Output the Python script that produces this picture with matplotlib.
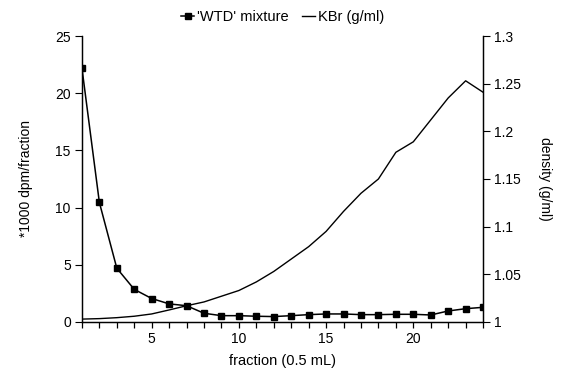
import matplotlib
matplotlib.use("Agg")
import matplotlib.pyplot as plt
from matplotlib.ticker import FuncFormatter, MultipleLocator

plt.rcParams['font.family'] = ['Liberation Sans', 'DejaVu Sans']
plt.rcParams['font.size'] = 10

fraction = list(range(1, 25))
wtd_mixture = [22.2, 10.45, 4.7, 2.85, 2.05, 1.58, 1.42, 0.76, 0.55, 0.55, 0.5, 0.47,
               0.55, 0.64, 0.7, 0.7, 0.64, 0.64, 0.67, 0.67, 0.61, 0.96, 1.16, 1.28]
kbr_density = [1.003, 1.0035, 1.0045, 1.006, 1.0084, 1.0126, 1.017, 1.021, 1.027, 1.033,
               1.042, 1.053, 1.066, 1.079, 1.095, 1.116, 1.135, 1.150, 1.178, 1.189,
               1.212, 1.235, 1.253, 1.241]

fig = plt.figure(figsize=(5.65, 3.77), dpi=100)
ax = fig.add_axes([0.145, 0.146, 0.71, 0.7585])
ax2 = ax.twinx()

l1, = ax.plot(fraction, wtd_mixture, color='black', lw=1.1, marker='s',
              markersize=5, label="'WTD' mixture")
l2, = ax2.plot(fraction, kbr_density, color='black', lw=1.0, label='KBr (g/ml)')

ax.set_xlim(1, 24)
ax.set_ylim(0, 25)
ax2.set_ylim(1, 1.3)

ax.xaxis.set_major_locator(MultipleLocator(1))
ax.xaxis.set_major_formatter(FuncFormatter(lambda v, p: f"{int(v)}" if v % 5 == 0 else ""))
ax.yaxis.set_major_locator(MultipleLocator(5))
ax2.yaxis.set_major_locator(MultipleLocator(0.05))
ax2.yaxis.set_major_formatter(FuncFormatter(lambda v, p: f"{v:g}"))

for a in (ax, ax2):
    a.spines['top'].set_visible(False)
    for s in a.spines.values():
        s.set_linewidth(0.9)
    a.tick_params(direction='out', length=5, width=0.8, pad=3)
ax.tick_params(axis='x', length=4, width=0.9)

ax.set_xlabel('fraction (0.5 mL)', fontsize=10.5, labelpad=6)
ax.set_ylabel('*1000 dpm/fraction', labelpad=16)
ax2.set_ylabel('density (g/ml)', rotation=-90, labelpad=22)

fig.legend(handles=[l1, l2], loc='upper center', bbox_to_anchor=(0.5, 1.0),
           ncol=2, frameon=False, fontsize=10.5, handlelength=0.9,
           handletextpad=0.2, columnspacing=0.9, borderaxespad=0.3)

fig.savefig('out.png', dpi=100)
